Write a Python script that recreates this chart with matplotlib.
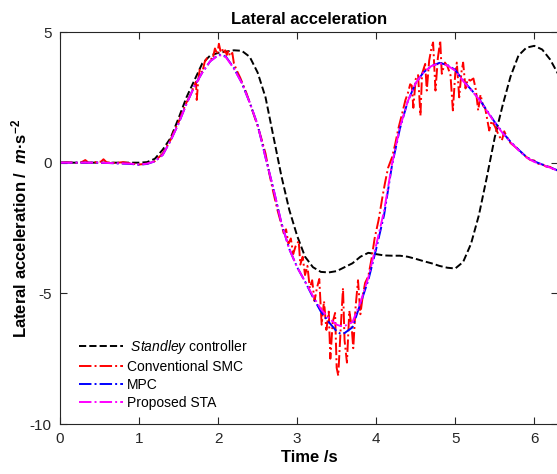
import matplotlib
matplotlib.use("Agg")
import matplotlib.pyplot as plt

plt.rcParams["font.family"] = ["Liberation Sans", "DejaVu Sans"]
plt.rcParams["axes.unicode_minus"] = False
plt.rcParams["mathtext.fontset"] = "custom"
plt.rcParams["mathtext.it"] = "Liberation Sans:italic"
plt.rcParams["mathtext.bf"] = "Liberation Sans:italic:bold"
plt.rcParams["mathtext.sf"] = "Liberation Sans:bold"
plt.rcParams["mathtext.rm"] = "Liberation Sans"

# Standley controller (black dashed)
t_std = [0.0, 1.0, 1.1, 1.2, 1.3, 1.4, 1.5, 1.6, 1.7, 1.8, 1.9, 2.0, 2.1, 2.2, 2.3, 2.4, 2.5,
         2.6, 2.7, 2.8, 2.9, 3.0, 3.1, 3.2, 3.3, 3.4, 3.5, 3.6, 3.7, 3.8, 3.9, 4.0, 4.1, 4.2,
         4.3, 4.4, 4.5, 4.6, 4.7, 4.8, 4.9, 5.0, 5.1, 5.2, 5.3, 5.4, 5.5, 5.6, 5.7, 5.8, 5.9,
         6.0, 6.1, 6.2, 6.3]
a_std = [0.0, 0.0, 0.02, 0.15, 0.5, 0.95, 1.7, 2.5, 3.15, 3.8, 4.1, 4.2, 4.25, 4.3, 4.28,
         4.05, 3.45, 2.5, 1.0, -0.5, -1.8, -2.8, -3.6, -4.0, -4.18, -4.2, -4.15, -4.0, -3.85,
         -3.6, -3.45, -3.5, -3.55, -3.56, -3.56, -3.6, -3.68, -3.77, -3.85, -3.95, -4.02,
         -4.05, -3.8, -3.1, -2.0, -0.55, 0.97, 2.2, 3.3, 4.1, 4.4, 4.47, 4.33, 3.95, 3.4]

# MPC and proposed STA (smooth curves)
t_sm = [0.0, 0.5, 0.9, 1.0, 1.1, 1.2, 1.3, 1.4, 1.5, 1.6, 1.7, 1.8, 1.9, 2.0, 2.05, 2.1, 2.2,
        2.3, 2.4, 2.5, 2.6, 2.7, 2.8, 2.9, 3.0, 3.1, 3.2, 3.3, 3.4, 3.5, 3.55, 3.6, 3.7, 3.8,
        3.9, 4.0, 4.1, 4.2, 4.3, 4.4, 4.5, 4.6, 4.7, 4.8, 4.9, 5.0, 5.1, 5.2, 5.3, 5.4, 5.5,
        5.6, 5.7, 5.8, 5.9, 6.0, 6.1, 6.2, 6.3]
a_mpc = [0.0, 0.0, -0.05, -0.08, -0.05, 0.05, 0.3, 0.85, 1.5, 2.25, 2.92, 3.45, 3.88, 4.12,
         4.13, 4.05, 3.62, 3.05, 2.3, 1.45, 0.2, -1.0, -2.3, -3.3, -4.0, -4.55, -5.15, -5.7,
         -6.1, -6.45, -6.55, -6.52, -6.3, -5.4, -4.5, -3.3, -2.0, -0.1, 1.3, 2.35, 3.05,
         3.46, 3.7, 3.82, 3.74, 3.55, 3.14, 2.8, 2.45, 2.0, 1.55, 1.15, 0.8, 0.5, 0.22, 0.05,
         -0.07, -0.18, -0.3]
a_sta = [0.0, 0.0, -0.04, -0.07, -0.04, 0.05, 0.3, 0.85, 1.5, 2.25, 2.92, 3.45, 3.88, 4.1,
         4.11, 4.03, 3.6, 3.05, 2.3, 1.45, 0.2, -1.0, -2.3, -3.3, -4.0, -4.55, -5.1, -5.6,
         -5.95, -6.2, -6.25, -6.25, -6.1, -5.35, -4.4, -3.15, -1.85, -0.05, 1.35, 2.35, 3.05,
         3.46, 3.7, 3.8, 3.72, 3.52, 3.12, 2.78, 2.43, 1.98, 1.53, 1.13, 0.78, 0.48, 0.2,
         0.03, -0.08, -0.19, -0.31]

# Conventional SMC (red, chattering)
t_smc = [0.00, 0.10, 0.20, 0.28, 0.32, 0.36, 0.45, 0.52, 0.55, 0.59, 0.70, 0.80, 0.90, 1.00,
         1.10, 1.20, 1.30, 1.40, 1.45, 1.50, 1.55, 1.60, 1.65, 1.70, 1.72, 1.73, 1.75, 1.77,
         1.80, 1.83, 1.86, 1.90, 1.93, 1.96, 1.99, 2.01, 2.03, 2.05, 2.07, 2.09, 2.11, 2.13,
         2.15, 2.18, 2.20, 2.24, 2.28, 2.32, 2.36, 2.40, 2.45, 2.50, 2.55, 2.60, 2.65, 2.70,
         2.75, 2.80, 2.83, 2.86, 2.89, 2.92, 2.95, 2.98, 3.02, 3.04, 3.07, 3.10, 3.13, 3.16,
         3.19, 3.22, 3.25, 3.28, 3.31, 3.34, 3.37, 3.40, 3.42, 3.45, 3.48, 3.50, 3.52, 3.55,
         3.58, 3.60, 3.63, 3.66, 3.69, 3.71, 3.74, 3.77, 3.80, 3.83, 3.86, 3.90, 3.94, 3.98,
         4.03, 4.08, 4.11, 4.15, 4.20, 4.24, 4.28, 4.33, 4.37, 4.40, 4.43, 4.45, 4.47, 4.50,
         4.53, 4.56, 4.58, 4.62, 4.64, 4.67, 4.70, 4.72, 4.75, 4.78, 4.81, 4.83, 4.87, 4.90,
         4.94, 4.97, 5.00, 5.02, 5.05, 5.08, 5.10, 5.13, 5.16, 5.19, 5.23, 5.26, 5.29, 5.32,
         5.35, 5.38, 5.43, 5.46, 5.50, 5.55, 5.59, 5.62, 5.65, 5.70, 5.78, 5.85, 5.90, 5.95,
         6.00, 6.05, 6.10, 6.15, 6.20, 6.25, 6.30]
a_smc = [0.00, 0.02, -0.01, 0.03, 0.10, 0.00, 0.02, 0.04, 0.13, 0.01, -0.01, 0.02, -0.03,
         -0.07, -0.04, 0.06, 0.35, 0.88, 1.25, 1.55, 1.95, 2.3, 2.6, 2.95, 3.1, 2.4, 3.2, 3.6,
         3.45, 3.85, 4.0, 4.0, 3.95, 4.37, 4.15, 4.55, 4.28, 4.37, 4.18, 4.30, 4.12, 4.29,
         4.08, 4.20, 3.80, 3.50, 3.25, 2.95, 2.65, 2.30, 1.85, 1.40, 0.90, 0.35, -0.45, -1.15,
         -1.80, -2.35, -2.70, -2.55, -3.10, -2.90, -3.50, -3.20, -3.00, -3.90, -3.60, -4.30,
         -3.95, -4.80, -4.50, -5.30, -4.80, -4.45, -6.20, -5.30, -6.40, -5.70, -7.50, -6.10,
         -5.75, -7.85, -8.15, -6.40, -4.80, -6.80, -7.65, -5.67, -6.30, -7.10, -5.50, -4.50,
         -5.80, -5.10, -4.60, -4.35, -3.70, -2.90, -2.20, -1.30, -0.80, -0.20, 0.20, 0.70,
         1.30, 1.90, 2.40, 2.65, 3.00, 2.95, 2.10, 3.20, 3.35, 1.80, 3.40, 3.78, 2.76, 3.90,
         4.40, 4.60, 2.76, 4.00, 4.67, 3.40, 3.83, 3.70, 3.35, 2.00, 3.40, 3.83, 2.50, 3.50,
         3.83, 2.84, 3.20, 3.14, 3.22, 2.80, 2.00, 2.60, 2.20, 2.07, 1.23, 1.60, 1.40, 1.05,
         0.85, 1.20, 1.00, 0.75, 0.55, 0.35, 0.22, 0.10, 0.08, -0.04, -0.06, -0.15, -0.16,
         -0.26, -0.30]

xticks = [0, 1, 2, 3, 4, 5, 6]
yticks = [-10, -5, 0, 5]

fig = plt.figure(figsize=(5.57, 4.74), dpi=100)
ax = fig.add_axes([60 / 557, 50 / 474, 498 / 557, 392 / 474])

lw = 1.4
ax.plot(t_std, a_std, color="black", ls="--", lw=lw,
        label=r" $\mathit{Standley}$ controller")
ax.plot(t_smc, a_smc, color="red", ls="-.", lw=lw, label="Conventional SMC")
ax.plot(t_sm, a_mpc, color="blue", ls="-.", lw=lw, label="MPC")
ax.plot(t_sm, a_sta, color="magenta", ls="-.", lw=lw, label="Proposed STA")

ax.set_xlim(0, 6.3)
ax.set_ylim(-10, 5)
ax.set_xticks(xticks)
ax.set_yticks(yticks)
ax.tick_params(direction="in", top=True, right=True, labelsize=11, length=5,
               width=0.8, colors="#262626", pad=6)
for s in ax.spines.values():
    s.set_linewidth(0.8)
    s.set_color("#262626")

ax.set_title("Lateral acceleration", fontsize=12, fontweight="bold", pad=6)
ax.set_xlabel("Time /s", fontsize=12, fontweight="bold", labelpad=3)
ax.set_ylabel(r"Lateral acceleration /  $\mathbf{m}$·s$^{\mathsf{-2}}$", fontsize=12,
              fontweight="bold", labelpad=0)

ax.legend(loc="lower left", bbox_to_anchor=(0.018, 0.01), frameon=False, fontsize=10,
          handlelength=3.2, handletextpad=0.3, labelspacing=0.3, borderaxespad=0.3)

fig.savefig("out.png", dpi=100)
